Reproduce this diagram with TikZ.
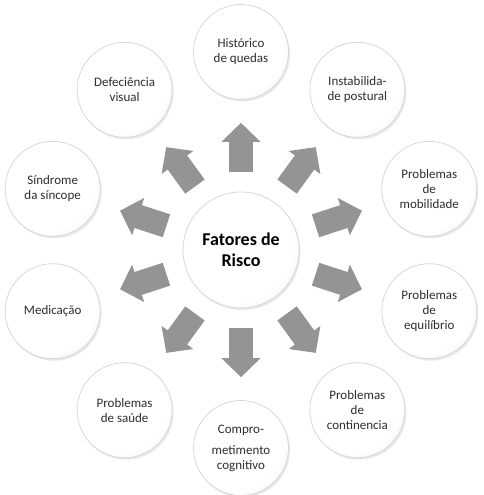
\documentclass[tikz,border=0pt]{standalone}
\usepackage{fontspec}
\setmainfont{Carlito}
\usepackage{tikz}
\usetikzlibrary{automata, arrows.meta, shadows}
\pgfdeclareradialshading{ballshade}{\pgfpoint{-8bp}{8bp}}{color(0bp)=(white); color(26bp)=(white); color(50bp)=(black!13)}
\tikzset{every picture/.style={line width=0.75pt}}

\begin{document}
\begin{tikzpicture}[-,every state/.style={draw=black!16, shading=ballshade, drop shadow={shadow xshift=1.5pt, shadow yshift=-2pt, opacity=0.18}, minimum size=95pt, inner sep=0pt, text=black!82, font=\fontsize{13}{15}\selectfont}, align=center,
    fator/.style={line width=24pt, draw=black!42, -{Triangle[width=39pt, length=19pt, line width=1pt]}, shorten <=20pt, shorten >=23pt}]
        \useasboundingbox (-241pt,-245pt) rectangle (242pt,250pt);
        \node[state, minimum size=116pt, text=black, font=\fontsize{18}{21}\selectfont\bfseries] (fat) at (0,0) {Fatores de\\Risco};
        \node[state] (hist) at (90:198pt) {Histórico\\de quedas};
        \node[state] (inst) at (54:198pt) {Instabilida-\\de postural};
        \node[state] (mob) at (18:198pt) {Problemas\\de\\mobilidade};
        \node[state] (equi) at (-18:198pt) {Problemas\\de\\equilíbrio};
        \node[state] (cont) at (-54:198pt) {Problemas\\de\\continencia};
        \node[state] (cogn) at (-90:198pt) {Compro-\\[6pt]metimento\\cognitivo};
        \node[state] (saude) at (-126:198pt) {Problemas\\de saúde};
        \node[state] (medic) at (-162:198pt) {Medicação};
        \node[state] (sinc) at (162:198pt) {Síndrome\\da síncope};
        \node[state] (visu) at (126:198pt) {Defeciência\\visual};

        \draw
            (fat) edge[fator] (hist)
            (fat) edge[fator] (inst)
            (fat) edge[fator] (mob)
            (fat) edge[fator] (equi)
            (fat) edge[fator] (cont)
            (fat) edge[fator] (cogn)
            (fat) edge[fator] (saude)
            (fat) edge[fator] (medic)
            (fat) edge[fator] (sinc)
            (fat) edge[fator] (visu)
            ;
    \end{tikzpicture}
\end{document}
